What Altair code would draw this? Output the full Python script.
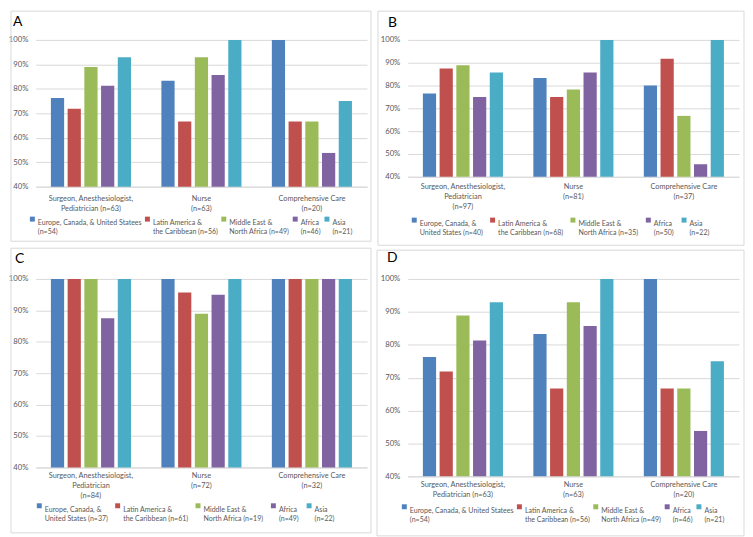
import altair as alt
import pandas as pd

FONT = "Lato"
TEXT_GREY = "#595959"
GRID_GREY = "#d9d9d9"
REGION_COLORS = ["#4F81BD", "#C0504D", "#9BBB59", "#8064A2", "#4BACC6"]

# ---------------- Panel A ----------------
A_CATEGORIES = ["Surgeon, Anesthesiologist,\nPediatrician (n=63)", "Nurse\n(n=63)", "Comprehensive Care\n(n=20)"]
A_REGIONS = ["Europe, Canada, & United Statees\n(n=54)", "Latin America &\nthe Caribbean (n=56)",
             "Middle East &\nNorth Africa (n=49)", "Africa\n(n=46)", "Asia\n(n=21)"]
A_SURGEON = [76.3, 71.9, 88.9, 81.3, 92.9]
A_NURSE = [83.3, 66.7, 92.9, 85.7, 100.0]
A_COMPREHENSIVE = [100.0, 66.7, 66.7, 53.8, 75.0]

# ---------------- Panel B ----------------
B_CATEGORIES = ["Surgeon, Anesthesiologist,\nPediatrician\n(n=97)", "Nurse\n(n=81)", "Comprehensive Care\n(n=37)"]
B_REGIONS = ["Europe, Canada, &\nUnited States (n=40)", "Latin America &\nthe Caribbean (n=68)",
             "Middle East &\nNorth Africa (n=35)", "Africa\n(n=50)", "Asia\n(n=22)"]
B_SURGEON = [76.5, 87.5, 88.9, 75.0, 85.7]
B_NURSE = [83.3, 75.0, 78.3, 85.7, 100.0]
B_COMPREHENSIVE = [80.0, 91.7, 66.7, 45.5, 100.0]

# ---------------- Panel C ----------------
C_CATEGORIES = ["Surgeon, Anesthesiologist,\nPediatrician\n(n=84)", "Nurse\n(n=72)", "Comprehensive Care\n(n=32)"]
C_REGIONS = ["Europe, Canada, &\nUnited States (n=37)", "Latin America &\nthe Caribbean (n=61)",
             "Middle East &\nNorth Africa (n=19)", "Africa\n(n=49)", "Asia\n(n=22)"]
C_SURGEON = [100.0, 100.0, 100.0, 87.5, 100.0]
C_NURSE = [100.0, 95.7, 88.9, 95.0, 100.0]
C_COMPREHENSIVE = [100.0, 100.0, 100.0, 100.0, 100.0]

# ---------------- Panel D ----------------
D_CATEGORIES = ["Surgeon, Anesthesiologist,\nPediatrician (n=63)", "Nurse\n(n=63)", "Comprehensive Care\n(n=20)"]
D_REGIONS = ["Europe, Canada, & United Statees\n(n=54)", "Latin America &\nthe Caribbean (n=56)",
             "Middle East &\nNorth Africa (n=49)", "Africa\n(n=46)", "Asia\n(n=21)"]
D_SURGEON = [76.3, 71.9, 88.9, 81.3, 92.9]
D_NURSE = [83.3, 66.7, 92.9, 85.7, 100.0]
D_COMPREHENSIVE = [100.0, 66.7, 66.7, 53.8, 75.0]

Y_TICKS = [0.4, 0.5, 0.6, 0.7, 0.8, 0.9, 1.0]
Y_MIN = 0.4
PLOT_W = 334


def panel(letter, cats, regions, rows, height, border, legend_xy, col_pad, label_pad, title_dx, title_offset):
    recs = []
    for cat, vals in zip(cats, rows):
        for reg, v in zip(regions, vals):
            recs.append({"cat": cat, "region": reg, "value": v / 100.0})
    df = pd.DataFrame(recs)

    bars = alt.Chart(df).mark_bar().encode(
        x=alt.X("cat:N", sort=cats, title=None,
                scale=alt.Scale(paddingInner=0.275, paddingOuter=0.137),
                axis=alt.Axis(labelExpr="split(datum.label, '\\n')", labelAngle=0, labelFont=FONT,
                              labelFontSize=7.4, labelColor=TEXT_GREY, labelLineHeight=10,
                              labelPadding=label_pad, ticks=False, domainColor=GRID_GREY,
                              labelLimit=400, grid=False)),
        xOffset=alt.XOffset("region:N", sort=regions,
                            scale=alt.Scale(paddingInner=0.21, paddingOuter=0)),
        y=alt.Y("value:Q", title=None,
                scale=alt.Scale(domain=[Y_MIN, 1.0], zero=False, nice=False),
                axis=alt.Axis(format=".0%", values=Y_TICKS, labelFont=FONT, labelFontSize=7.8,
                              labelColor=TEXT_GREY, labelPadding=8, ticks=False, domain=False,
                              gridColor=GRID_GREY, gridWidth=1)),
        y2=alt.datum(Y_MIN),
        color=alt.Color("region:N", sort=regions,
                        scale=alt.Scale(domain=regions, range=REGION_COLORS),
                        legend=alt.Legend(title=None, orient="none", legendX=legend_xy[0],
                                          legendY=legend_xy[1], direction="horizontal", columns=5,
                                          columnPadding=col_pad, symbolType="square", symbolSize=25,
                                          symbolStrokeWidth=0, labelExpr="split(datum.label, '\\n')",
                                          labelFont=FONT, labelFontSize=7.1, labelColor=TEXT_GREY,
                                          labelLimit=400, labelOffset=2, labelBaseline="top")),
    )

    frame = alt.Chart(pd.DataFrame({"k": [0]})).mark_rect(
        fillOpacity=0, stroke=GRID_GREY, strokeWidth=1
    ).encode(
        x=alt.value(border[0]), x2=alt.value(border[1]),
        y=alt.value(border[2]), y2=alt.value(border[3]),
    )

    return alt.layer(bars, frame).properties(
        width=PLOT_W, height=height,
        title=alt.TitleParams(letter, anchor="start", frame="group", dx=title_dx, offset=title_offset,
                              fontSize=14, fontWeight="normal", font=FONT, color="#000000"),
    )


pA = panel("A", A_CATEGORIES, A_REGIONS, [A_SURGEON, A_NURSE, A_COMPREHENSIVE], 148,
           (-25, 338, -29, 203), (-7, 177), 2, 8, -23, -18)
pB = panel("B", B_CATEGORIES, B_REGIONS, [B_SURGEON, B_NURSE, B_COMPREHENSIVE], 138,
           (-30, 339, -29, 207), (3, 178), 6, 6, -20, -19)
pC = panel("C", C_CATEGORIES, C_REGIONS, [C_SURGEON, C_NURSE, C_COMPREHENSIVE], 190,
           (-25, 338, -31, 256), (0, 225), 6, 4, -21, -18)
pD = panel("D", D_CATEGORIES, D_REGIONS, [D_SURGEON, D_NURSE, D_COMPREHENSIVE], 199,
           (-31, 339, -29, 259), (-7, 226), 2, 4, -21, -15)

top = alt.hconcat(pA, pB, spacing=5).resolve_scale(
    color="independent", x="independent", y="independent", xOffset="independent"
).resolve_legend(color="independent")
bottom = alt.hconcat(pC, pD, spacing=4).resolve_scale(
    color="independent", x="independent", y="independent", xOffset="independent"
).resolve_legend(color="independent")

chart = alt.vconcat(top, bottom, spacing=1).resolve_scale(
    color="independent", x="independent", y="independent", xOffset="independent"
).resolve_legend(color="independent").properties(
    padding=0, background="white"
).configure_view(stroke=None)

chart.save("out.html", embed_options={"renderer": "svg", "actions": False})
